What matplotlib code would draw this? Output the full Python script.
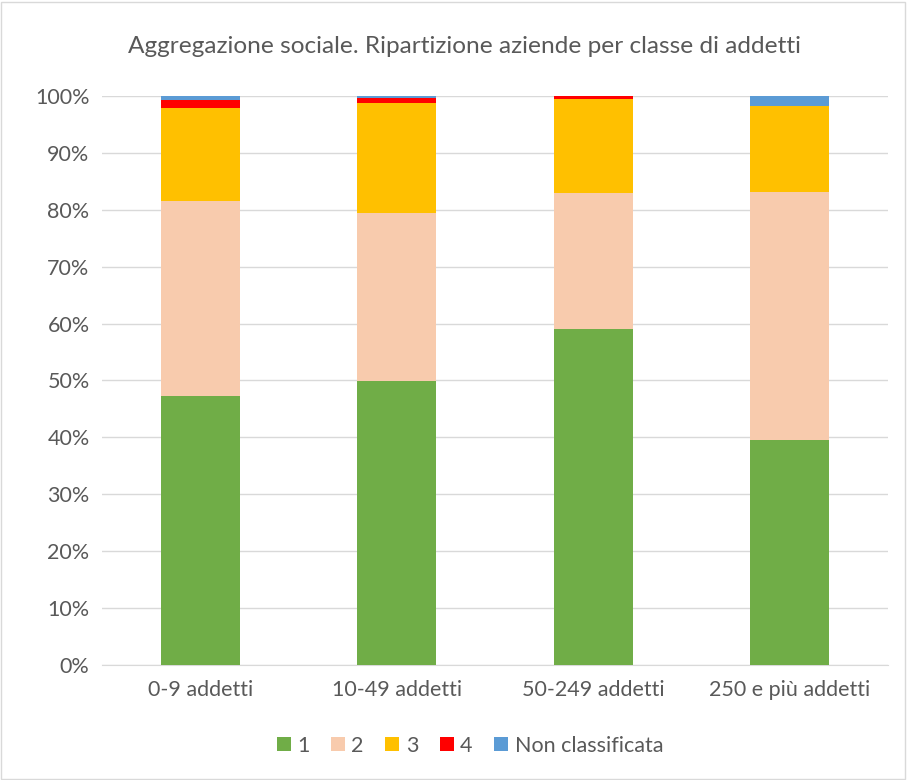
import matplotlib.pyplot as plt
import numpy as np
from matplotlib.patches import Rectangle

# ------------------------------
# 데이터
# ------------------------------
categories = ["0-9 addetti", "10-49 addetti", "50-249 addetti", "250 e più addetti"]
series_names = ["1", "2", "3", "4", "Non classificata"]
v1 = [47.3, 49.9, 59.1, 39.5]
v2 = [34.2, 29.5, 23.9, 43.6]
v3 = [16.4, 19.4, 16.4, 15.1]
v4 = [1.3, 0.8, 0.6, 0.0]
v_nc = [0.8, 0.4, 0.0, 1.8]
colors = ["#70ad47", "#f8cbad", "#ffc000", "#ff0000", "#5b9bd5"]

plt.rcParams['font.family'] = ['Lato', 'DejaVu Sans']
text_color = "#595959"

fig = plt.figure(figsize=(9.07, 7.80), dpi=100)
ax = fig.add_axes([0.1125, 0.1474, 0.8665, 0.7296])

x = np.arange(len(categories))
bottom = np.zeros(len(categories))
for name, vals, c in zip(series_names, [v1, v2, v3, v4, v_nc], colors):
    ax.bar(x, vals, 0.4, bottom=bottom, color=c, label=name, zorder=3)
    bottom += np.array(vals)

ax.set_xlim(-0.5, 3.5)
ax.set_ylim(0, 100)
ax.set_yticks(np.arange(0, 101, 10))
ax.set_yticklabels([f"{t}%" for t in range(0, 101, 10)])
ax.set_xticks(x)
ax.set_xticklabels(categories)
ax.grid(axis='y', color='#d9d9d9', linewidth=1, zorder=0)
for s in ['top', 'right', 'left']:
    ax.spines[s].set_visible(False)
ax.spines['bottom'].set_color('#d9d9d9')
ax.tick_params(length=0, colors=text_color, labelsize=15.5)
ax.tick_params(axis='x', pad=11)
ax.tick_params(axis='y', pad=9)

fig.text(0.512, 0.94, "Aggregazione sociale. Ripartizione aziende per classe di addetti",
         ha='center', va='center', fontsize=17.6, color=text_color)

leg = fig.legend(loc='center', bbox_to_anchor=(0.518, 0.044), ncol=5, frameon=False,
                 fontsize=15.5, handlelength=0.65, handleheight=0.65, handletextpad=0.3,
                 columnspacing=1.0)
for t in leg.get_texts():
    t.set_color(text_color)

fig.patches.append(Rectangle((0.001, 0.001), 0.997, 0.997, transform=fig.transFigure,
                             fill=False, edgecolor='#d9d9d9', linewidth=1))

plt.savefig("out.png", dpi=100)
